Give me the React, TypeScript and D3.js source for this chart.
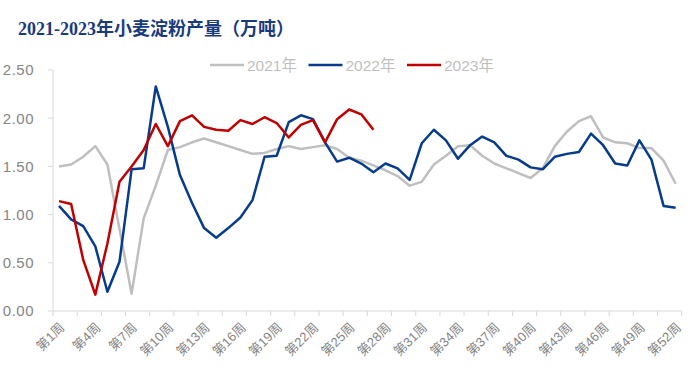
import React from "react";
import * as d3 from "d3";

const weeks = d3.range(1, 53).map((i) => `第${i}周`);

const y2021 = [1.50, 1.52, 1.60, 1.71, 1.52, 0.85, 0.18, 0.96, 1.30, 1.67, 1.70, 1.75, 1.79, 1.75, 1.71, 1.67, 1.63, 1.64, 1.68, 1.71, 1.68, 1.70, 1.72, 1.68, 1.59, 1.56, 1.51, 1.46, 1.40, 1.30, 1.34, 1.52, 1.61, 1.71, 1.72, 1.61, 1.53, 1.48, 1.43, 1.38, 1.48, 1.71, 1.86, 1.97, 2.02, 1.80, 1.75, 1.74, 1.69, 1.69, 1.56, 1.32];
const y2022 = [1.09, 0.95, 0.88, 0.67, 0.20, 0.51, 1.47, 1.48, 2.33, 1.91, 1.41, 1.12, 0.86, 0.76, 0.86, 0.97, 1.15, 1.60, 1.61, 1.96, 2.03, 1.99, 1.75, 1.55, 1.59, 1.53, 1.44, 1.53, 1.48, 1.36, 1.74, 1.88, 1.77, 1.58, 1.72, 1.81, 1.75, 1.61, 1.57, 1.49, 1.47, 1.60, 1.63, 1.65, 1.84, 1.72, 1.53, 1.51, 1.77, 1.57, 1.09, 1.07];
const y2023 = [1.14, 1.11, 0.53, 0.17, 0.70, 1.34, 1.50, 1.67, 1.94, 1.71, 1.97, 2.03, 1.91, 1.88, 1.87, 1.98, 1.94, 2.01, 1.95, 1.80, 1.93, 1.98, 1.75, 1.99, 2.09, 2.04, 1.88];

const yTicks = [0, 0.5, 1, 1.5, 2, 2.5];

const series = [
  { name: "2021年", values: y2021, color: "#bfbfbf" },
  { name: "2022年", values: y2022, color: "#073c8c" },
  { name: "2023年", values: y2023, color: "#c00000" },
];

export default function App() {
  const width = 700, height = 374;
  const left = 53, right = 681.7, top = 70, bottom = 311;

  const x = d3.scaleBand().domain(weeks).range([left, right]).padding(0);
  const y = d3.scaleLinear().domain([0, 2.5]).range([bottom, top]);
  const cx = (w: string) => (x(w) as number) + x.bandwidth() / 2;

  const line = d3.line<number>()
    .x((_, i) => cx(weeks[i]))
    .y((d) => y(d));

  const fmt = d3.format(".2f");
  const axisColor = "#d9d9d9";
  const labelColor = "#858585";

  // tick marks every 2 weeks, labels every 3 weeks
  const tickXs = d3.range(0, weeks.length + 1, 2).map((i) => left + i * x.step());
  const labelWeeks = weeks.filter((_, i) => i % 3 === 0);

  return (
    <svg width={width} height={height} style={{ position: "absolute", left: 0, top: 0, background: "#fff" }}>
      <text x={18} y={35} fill="#1a3a7e" fontSize={18} fontWeight="bold"
        fontFamily="'Liberation Serif', 'Noto Sans CJK SC', serif">
        2021-2023年小麦淀粉产量（万吨）
      </text>

      {/* legend */}
      {series.map((s, i) => {
        const lx = 210 + i * 98.5;
        return (
          <g key={s.name}>
            <line x1={lx} x2={lx + 34} y1={65} y2={65} stroke={s.color} strokeWidth={2.5} />
            <text x={lx + 37} y={70.5} fill="#bfbfbf" fontSize={15.5}
              fontFamily="'Liberation Sans', 'Noto Sans CJK SC', sans-serif">{s.name}</text>
          </g>
        );
      })}

      {/* y axis */}
      <line x1={left} x2={left} y1={top} y2={bottom} stroke={axisColor} />
      {yTicks.map((t) => (
        <g key={t}>
          <line x1={left - 5} x2={left} y1={y(t)} y2={y(t)} stroke={axisColor} />
          <text x={34} y={y(t)} dy="0.36em" textAnchor="end" fill={labelColor} fontSize={15}
            letterSpacing={0.5} fontFamily="'Liberation Sans', sans-serif">{fmt(t)}</text>
        </g>
      ))}

      {/* x axis */}
      <line x1={left} x2={right} y1={bottom} y2={bottom} stroke={axisColor} />
      {tickXs.map((tx, i) => (
        <line key={i} x1={tx} x2={tx} y1={bottom} y2={bottom + 5} stroke={axisColor} />
      ))}
      {labelWeeks.map((w) => (
        <text key={w} transform={`translate(${cx(w) + 3},${bottom + 14}) rotate(-45)`}
          textAnchor="end" dy="0.35em" fill={labelColor} fontSize={13}
          fontFamily="'Liberation Sans', 'Noto Sans CJK SC', sans-serif">{w}</text>
      ))}

      {series.map((s) => (
        <path key={s.name} d={line(s.values) || ""} fill="none" stroke={s.color}
          strokeWidth={2.5} strokeLinejoin="round" />
      ))}
    </svg>
  );
}
